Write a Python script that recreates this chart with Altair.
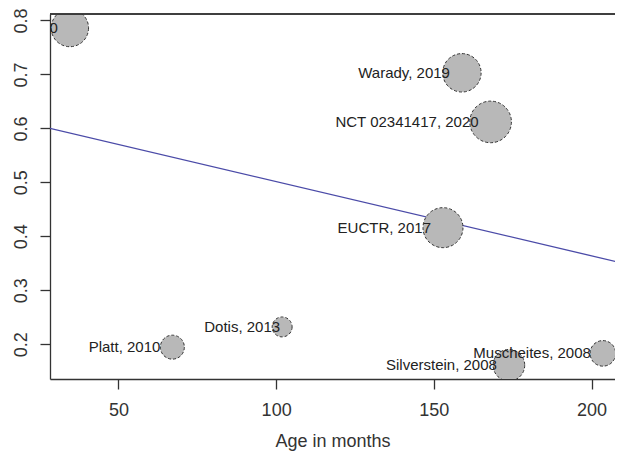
import altair as alt
import pandas as pd

# Study data
labels = ["Hogg, 2020", "Warady, 2019", "NCT 02341417, 2020", "EUCTR, 2017",
          "Platt, 2010", "Dotis, 2013", "Silverstein, 2008", "Muscheites, 2008"]
age_months = [34.6, 158.9, 168.0, 152.9, 67.1, 101.9, 173.8, 203.6]
effect = [0.786, 0.703, 0.612, 0.416, 0.1945, 0.232, 0.161, 0.183]
weight_pct = [15.8, 16.7, 19.6, 18.1, 6.5, 4.5, 11.3, 7.4]

# Meta-regression line endpoints
line_x = [28.3, 210.0]
line_y = [0.600, 0.350]

x_ticks = [50, 100, 150, 200]
y_ticks = [0.2, 0.3, 0.4, 0.5, 0.6, 0.7, 0.8]

df = pd.DataFrame({"label": labels, "age": age_months, "eff": effect, "w": weight_pct})
df_line = pd.DataFrame({"age": line_x, "eff": line_y})

W, H = 565, 365
xs = alt.Scale(domain=[28.3, 207.44], nice=False, zero=False)
ys = alt.Scale(domain=[0.1355, 0.812], nice=False, zero=False)

x_axis = alt.Axis(values=x_ticks, title="Age in months", grid=False, tickSize=10,
                  labelFontSize=18, labelPadding=12, titleFontSize=18,
                  titleFontWeight="normal", titlePadding=13, labelFont="Liberation Sans",
                  titleFont="Liberation Sans", labelColor="#333", titleColor="#333",
                  domainColor="#333", tickColor="#333", domainWidth=1.3, tickWidth=1.3)
y_axis = alt.Axis(values=y_ticks, format=".1f", title=None, grid=False, tickSize=10,
                  labelFontSize=18, labelAngle=270, labelAlign="center",
                  labelBaseline="bottom", labelPadding=10, labelFont="Liberation Sans",
                  labelColor="#333", domainColor="#333", tickColor="#333",
                  domainWidth=1.3, tickWidth=1.3)

line = alt.Chart(df_line).mark_line(color="#4B4BA8", strokeWidth=1.3, clip=True).encode(
    x=alt.X("age:Q", scale=xs, axis=x_axis),
    y=alt.Y("eff:Q", scale=ys, axis=y_axis),
)

points = alt.Chart(df).mark_point(
    shape="circle", filled=True, fill="#B8B8B8", fillOpacity=1, stroke="#333333",
    strokeWidth=1, strokeDash=[3, 2], clip=True
).encode(
    x=alt.X("age:Q", scale=xs),
    y=alt.Y("eff:Q", scale=ys),
    size=alt.Size("w:Q", scale=alt.Scale(domain=[0, 20], range=[0, 1767], zero=True), legend=None),
)

text_main = alt.Chart(df).transform_filter(alt.datum.label != "Dotis, 2013").mark_text(
    align="right", baseline="middle", dx=-12, fontSize=15, font="Liberation Sans",
    color="#222222", clip=True
).encode(
    x=alt.X("age:Q", scale=xs),
    y=alt.Y("eff:Q", scale=ys),
    text="label:N",
)

text_dotis = alt.Chart(df).transform_filter(alt.datum.label == "Dotis, 2013").mark_text(
    align="right", baseline="middle", dx=-2, fontSize=15, font="Liberation Sans",
    color="#222222", clip=True
).encode(
    x=alt.X("age:Q", scale=xs),
    y=alt.Y("eff:Q", scale=ys),
    text="label:N",
)

top_border = alt.Chart(df_line).mark_rule(color="#333", strokeWidth=1.5).encode(
    x=alt.value(0), x2=alt.value(W), y=alt.value(0)
)

chart = alt.layer(line, points, text_main, text_dotis, top_border).properties(
    width=W, height=H,
    autosize=alt.AutoSizeParams(type="none"),
    padding={"left": 42, "top": 6, "right": 0, "bottom": 76},
).configure_view(stroke=None)

chart.save("out.html", embed_options={"renderer": "svg", "actions": False})
